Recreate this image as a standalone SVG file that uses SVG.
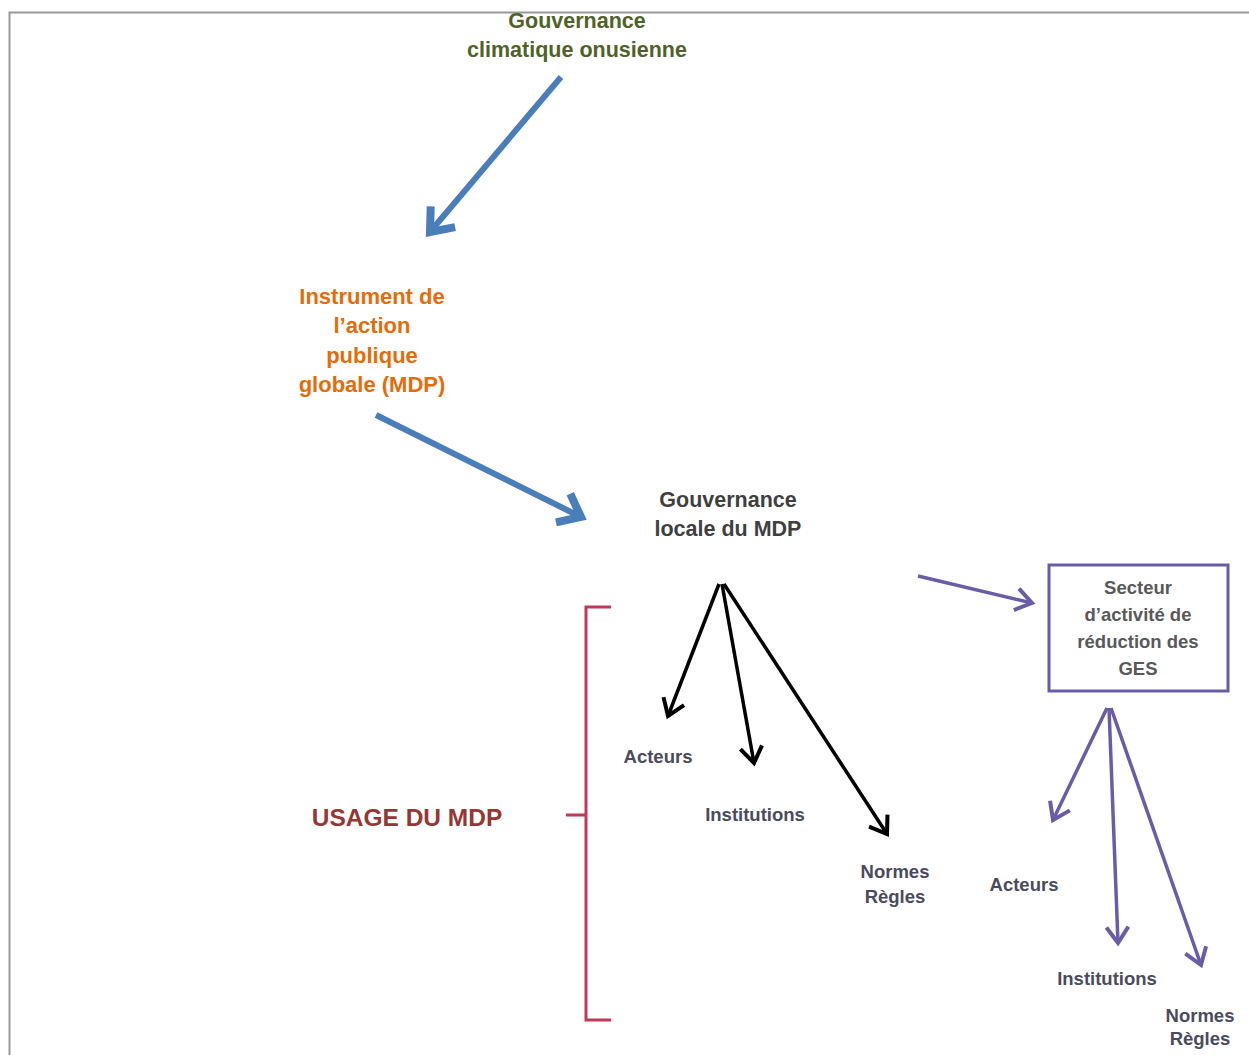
<svg xmlns="http://www.w3.org/2000/svg" width="1249" height="1055" viewBox="0 0 1249 1055">
<style>
text{font-family:"Liberation Sans",Arial,sans-serif;font-weight:bold;text-anchor:middle}
.t1{fill:#4f6228;font-size:21.5px}
.t2{fill:#e46c0a;font-size:22px}
.t3{fill:#3f3f3f;font-size:21.5px}
.lbl{fill:#4b4b5e;font-size:18.5px}
.box{fill:#595959;font-size:18.5px}
.usage{fill:#953735;font-size:24.5px}
.blue{stroke:#4a7ebb;stroke-width:6;fill:none;marker-end:url(#mb)}
.blk{stroke:#000;stroke-width:3.5;fill:none;marker-end:url(#mk)}
.pur{stroke:#6b5ca8;stroke-width:3.5;fill:none;marker-end:url(#mp)}
</style>
<defs>
<marker id="mb" markerUnits="userSpaceOnUse" viewBox="-30 -25 40 50" markerWidth="40" markerHeight="50" refX="0" refY="0" orient="auto" overflow="visible">
<path d="M-20,-16 L0,0 L-20,16" fill="none" stroke="#4a7ebb" stroke-width="8" stroke-linejoin="miter"/>
</marker>
<marker id="mk" markerUnits="userSpaceOnUse" viewBox="-20 -15 30 30" markerWidth="30" markerHeight="30" refX="0" refY="0" orient="auto" overflow="visible">
<path d="M-16,-11 L0,0 L-16,11" fill="none" stroke="#000" stroke-width="4"/>
</marker>
<marker id="mp" markerUnits="userSpaceOnUse" viewBox="-20 -15 30 30" markerWidth="30" markerHeight="30" refX="0" refY="0" orient="auto" overflow="visible">
<path d="M-16,-11 L0,0 L-16,11" fill="none" stroke="#6b5ca8" stroke-width="4"/>
</marker>
</defs>
<rect width="1249" height="1055" fill="#fff"/>
<path d="M9.5,1055 V12.5 H1249" fill="none" stroke="#999" stroke-width="2"/>

<g id="connectors">
<path class="blue" d="M561,77 L430,232"/>
<path class="blue" d="M376,415 L581,517"/>
<path class="blk" d="M719,584 L668,716"/>
<path class="blk" d="M722,584 L754,763"/>
<path class="blk" d="M724,584 L887,834"/>
<path class="pur" d="M918,576 L1032,603"/>
<path class="pur" d="M1107,708 L1053,820"/>
<path class="pur" d="M1109,708 L1118,943"/>
<path class="pur" d="M1111,708 L1201,965"/>
</g>

<g id="gouvernance-onusienne">
<text class="t1" x="577" y="28">Gouvernance</text>
<text class="t1" x="577" y="57">climatique onusienne</text>
</g>

<g id="instrument">
<text class="t2" x="372" y="304">Instrument de</text>
<text class="t2" x="372" y="333">l’action</text>
<text class="t2" x="372" y="363">publique</text>
<text class="t2" x="372" y="392">globale (MDP)</text>
</g>

<g id="gouvernance-locale">
<text class="t3" x="728" y="507">Gouvernance</text>
<text class="t3" x="728" y="536">locale du MDP</text>
</g>

<g id="acteurs-1"><text class="lbl" x="658" y="763">Acteurs</text></g>
<g id="institutions-1"><text class="lbl" x="755" y="821">Institutions</text></g>
<g id="normes-1">
<text class="lbl" x="895" y="878">Normes</text>
<text class="lbl" x="895" y="903">Règles</text>
</g>

<g id="usage">
<path d="M611,607 H586 V1020 H611 M586,815 H566" fill="none" stroke="#c0395a" stroke-width="3"/>
<text class="usage" x="407" y="826">USAGE DU MDP</text>
</g>

<g id="secteur">
<rect x="1049" y="565" width="179" height="126" fill="#fff" stroke="#6b5ca8" stroke-width="3"/>
<text class="box" x="1138" y="594">Secteur</text>
<text class="box" x="1138" y="621">d’activité de</text>
<text class="box" x="1138" y="648">réduction des</text>
<text class="box" x="1138" y="675">GES</text>
</g>

<g id="acteurs-2"><text class="lbl" x="1024" y="891">Acteurs</text></g>
<g id="institutions-2"><text class="lbl" x="1107" y="985">Institutions</text></g>
<g id="normes-2">
<text class="lbl" x="1200" y="1022">Normes</text>
<text class="lbl" x="1200" y="1045">Règles</text>
</g>
</svg>
